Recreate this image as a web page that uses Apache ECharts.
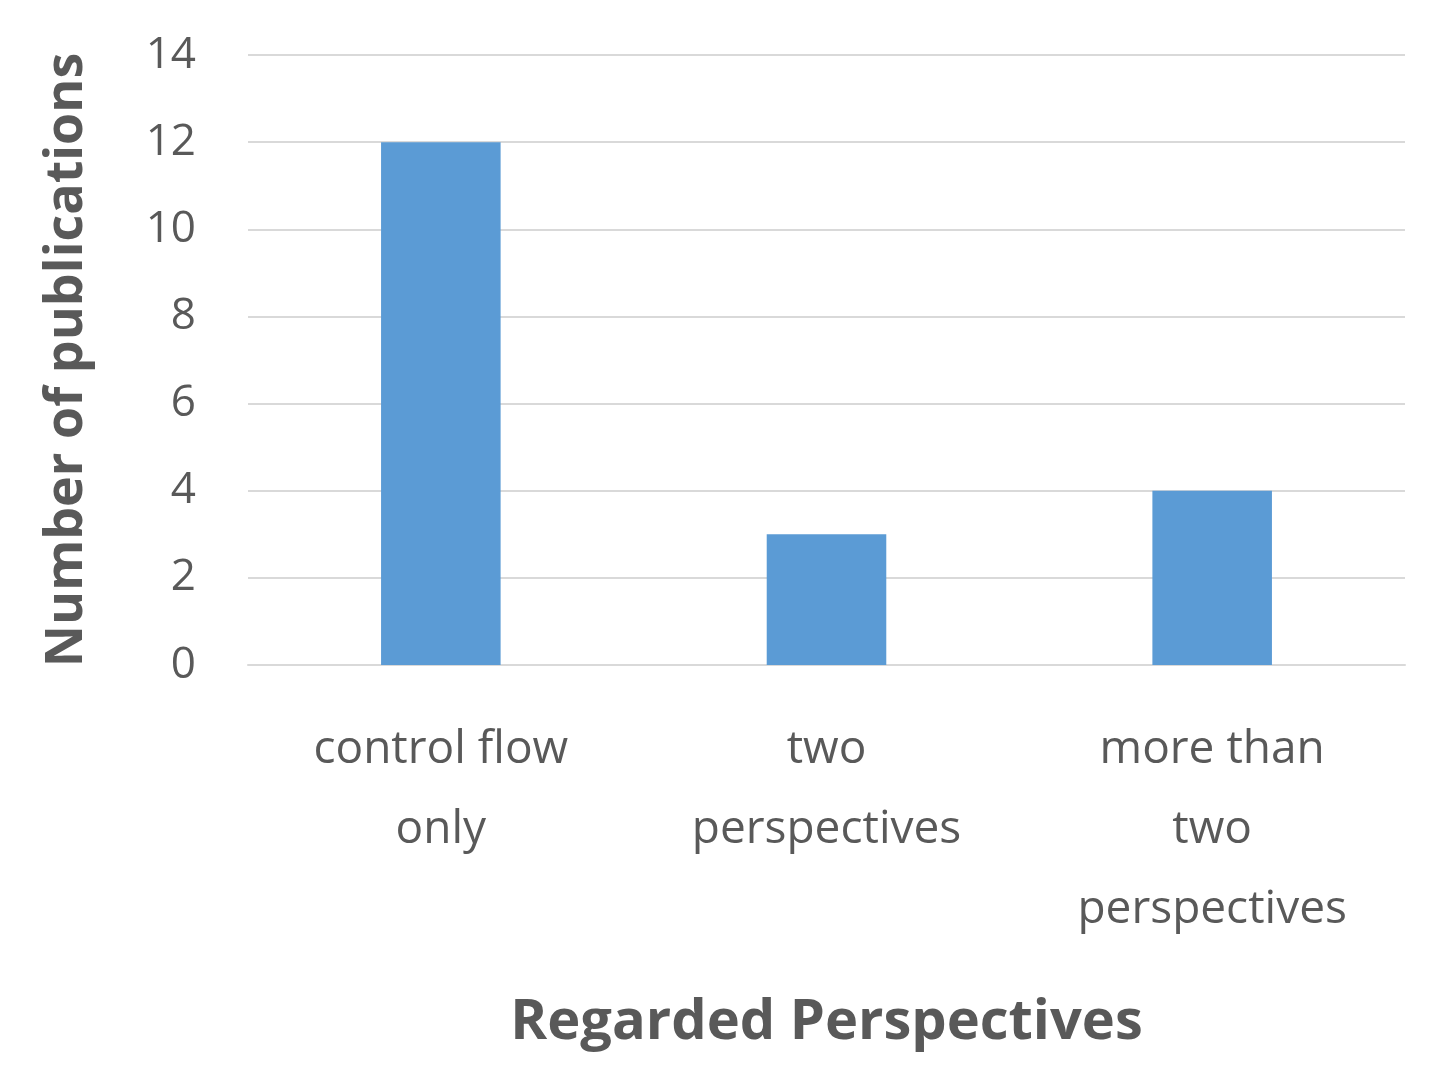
<!DOCTYPE html>
<html>
<head>
<meta charset="utf-8">
<script src="https://cdn.jsdelivr.net/npm/echarts@6/dist/echarts.min.js"></script>
<style>
  html, body { margin: 0; padding: 0; background: #fff; }
  #chart { width: 1437px; height: 1066px; }
</style>
</head>
<body>
<div id="chart"></div>
<script>
  const categories = ["control flow\nonly", "two\nperspectives", "more than\ntwo\nperspectives"];
  const publications = [12, 3, 4];

  const chart = echarts.init(document.getElementById("chart"), null, { renderer: "canvas" });
  chart.setOption({
    animation: false,
    grid: { left: 248, right: 32, top: 55, bottom: 401 },
    xAxis: {
      type: "category",
      data: categories,
      name: "Regarded Perspectives",
      nameLocation: "middle",
      nameGap: 330,
      nameTextStyle: { color: "#595959", fontSize: 56, fontWeight: "bold", fontFamily: "Open Sans" },
      axisLine: { lineStyle: { color: "#d9d9d9", width: 2 } },
      axisTick: { show: false },
      axisLabel: {
        color: "#595959", fontSize: 46, fontFamily: "Open Sans",
        lineHeight: 80, margin: 45, interval: 0, verticalAlign: "top"
      }
    },
    yAxis: {
      type: "value",
      min: 0, max: 14, interval: 2,
      name: "Number of publications",
      nameLocation: "middle",
      nameGap: 155,
      nameTextStyle: { color: "#595959", fontSize: 52, fontWeight: "bold", fontFamily: "Open Sans" },
      axisLine: { show: false },
      axisTick: { show: false },
      splitLine: { lineStyle: { color: "#d9d9d9", width: 2 } },
      axisLabel: { color: "#595959", fontSize: 44, fontFamily: "Open Sans", margin: 52 }
    },
    series: [{
      type: "bar",
      data: publications,
      barWidth: "31%",
      itemStyle: { color: "#5b9bd5" }
    }]
  });
</script>
</body>
</html>
